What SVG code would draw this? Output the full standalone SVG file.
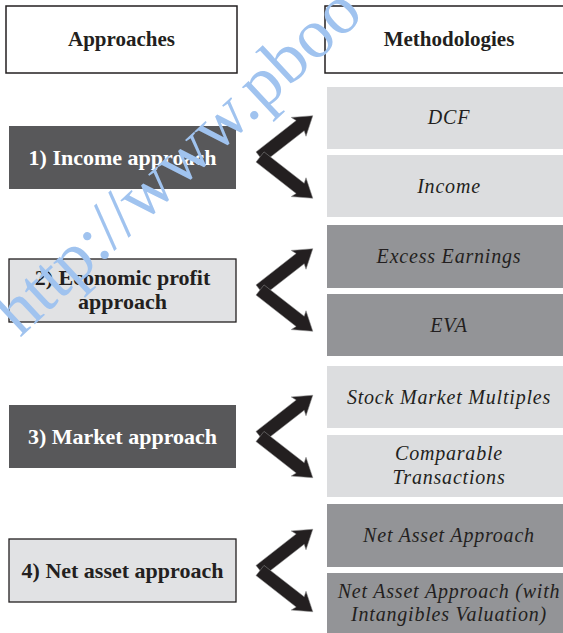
<svg xmlns="http://www.w3.org/2000/svg" width="563" height="633" viewBox="0 0 563 633">
<style>
.hdr{fill:#fff;stroke:#231f20;stroke-width:1.5}
.dark{fill:#58585a}
.lite{fill:#e1e2e4;stroke:#231f20;stroke-width:1.3}
.m1{fill:#dcdddf}
.m2{fill:#939497}
.tb{font-family:"Liberation Serif","Times New Roman",serif;font-weight:bold;text-anchor:middle;fill:#231f20}
.tw{fill:#fff}
.ti{font-family:"Liberation Serif","Times New Roman",serif;font-style:italic;font-size:20px;letter-spacing:0.8px;text-anchor:middle;fill:#231f20}
.arr{fill:#231f20;stroke:#8a8a8a;stroke-width:0.5}
.wm{font-family:"Liberation Serif","Times New Roman",serif;font-size:70px;fill:#a0c3ef}
</style>
<defs>
<polygon id="arw" points="0,-6.5 51,-6.5 49,-12 67,0 49,12 51,6.5 0,6.5"/>
</defs>

<g id="hdr-approaches">
<rect class="hdr" x="6" y="6" width="231" height="67"/>
<text class="tb" x="121.5" y="46" font-size="21">Approaches</text>
</g>
<g id="hdr-methodologies">
<rect class="hdr" x="325" y="6" width="250" height="67"/>
<text class="tb" x="449" y="46" font-size="21">Methodologies</text>
</g>

<g id="a1">
<rect class="dark" x="9" y="126" width="227" height="63"/>
<text class="tb tw" x="122.5" y="164.5" font-size="22">1) Income approach</text>
</g>
<g id="a2">
<rect class="lite" x="9" y="259" width="227" height="63"/>
<text class="tb" x="122.5" y="285" font-size="22">2) Economic profit</text>
<text class="tb" x="122.5" y="309" font-size="22">approach</text>
</g>
<g id="a3">
<rect class="dark" x="9" y="405" width="227" height="63"/>
<text class="tb tw" x="122.5" y="443.5" font-size="22">3) Market approach</text>
</g>
<g id="a4">
<rect class="lite" x="9" y="539" width="227" height="63"/>
<text class="tb" x="122.5" y="577.5" font-size="22">4) Net asset approach</text>
</g>

<g id="m-dcf">
<rect class="m1" x="327" y="87" width="240" height="62"/>
<text class="ti" x="449" y="124">DCF</text>
</g>
<g id="m-income">
<rect class="m1" x="327" y="155" width="240" height="62"/>
<text class="ti" x="449" y="192.5">Income</text>
</g>
<g id="m-excess">
<rect class="m2" x="327" y="225" width="240" height="63"/>
<text class="ti" x="449" y="263">Excess Earnings</text>
</g>
<g id="m-eva">
<rect class="m2" x="327" y="294" width="240" height="62"/>
<text class="ti" x="449" y="331.5">EVA</text>
</g>
<g id="m-stock">
<rect class="m1" x="327" y="366" width="240" height="62"/>
<text class="ti" x="449" y="404">Stock Market Multiples</text>
</g>
<g id="m-comparable">
<rect class="m1" x="327" y="435" width="240" height="62"/>
<text class="ti" x="449" y="460">Comparable</text>
<text class="ti" x="449" y="484">Transactions</text>
</g>
<g id="m-netasset">
<rect class="m2" x="327" y="504" width="240" height="63"/>
<text class="ti" x="449" y="542">Net Asset Approach</text>
</g>
<g id="m-netasset-int">
<rect class="m2" x="327" y="573" width="240" height="62"/>
<text class="ti" x="449" y="598">Net Asset Approach (with</text>
<text class="ti" x="449" y="621">Intangibles Valuation)</text>
</g>

<g id="connectors">
<use href="#arw" class="arr" transform="translate(260,157) rotate(-38)"/>
<use href="#arw" class="arr" transform="translate(260,157) rotate(38)"/>
<use href="#arw" class="arr" transform="translate(260,290) rotate(-38)"/>
<use href="#arw" class="arr" transform="translate(260,290) rotate(38)"/>
<use href="#arw" class="arr" transform="translate(260,436.5) rotate(-38)"/>
<use href="#arw" class="arr" transform="translate(260,436.5) rotate(38)"/>
<use href="#arw" class="arr" transform="translate(260,570.5) rotate(-38)"/>
<use href="#arw" class="arr" transform="translate(260,570.5) rotate(38)"/>
</g>

<text class="wm" transform="translate(20,338) rotate(-43)">http://www.pboo</text>
</svg>
